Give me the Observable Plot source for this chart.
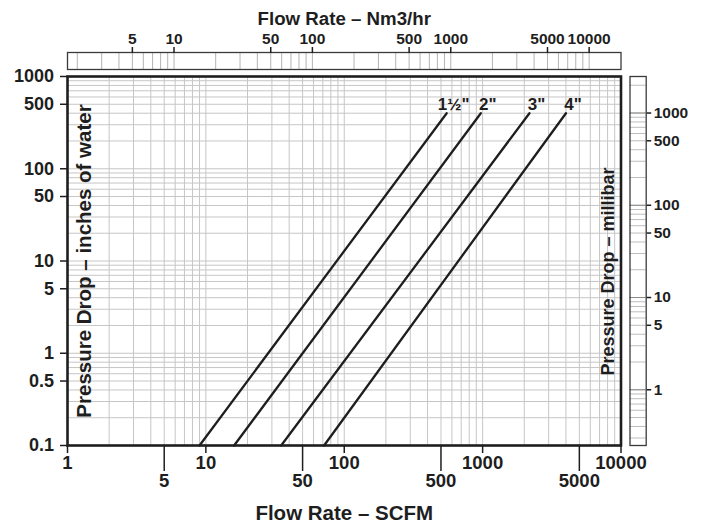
<!DOCTYPE html>
<html>
<head>
<meta charset="utf-8">
<script src="https://cdn.jsdelivr.net/npm/d3@7"></script>
<script src="https://cdn.jsdelivr.net/npm/@observablehq/plot@0.6"></script>
<style>
  html, body { margin: 0; padding: 0; background: #fff; }
  #chart { position: relative; width: 704px; height: 524px; overflow: hidden; }
  #chart svg { position: absolute; top: 0; max-width: none; }
</style>
</head>
<body>
<div id="chart"></div>
<script>
// ---------- data ----------
const sizes = ["1½\"", "2\"", "3\"", "4\""];
const dpLow = 0.1;                          // inches of water (bottom end of each line)
const dpHigh = 400;                         // inches of water (top end of each line)
const flowAtLow = [9, 16, 35, 71.5];        // SCFM at dpLow
const flowAtHigh = [550, 970, 2180, 4000];  // SCFM at dpHigh

const scfmTicksRow1 = [1, 10, 100, 1000, 10000];
const scfmTicksRow2 = [5, 50, 500, 5000];
const inchTicks = [0.1, 0.5, 1, 5, 10, 50, 100, 500, 1000];
const nm3Ticks = [5, 10, 50, 100, 500, 1000, 5000, 10000];
const mbarTicks = [1, 5, 10, 50, 100, 500, 1000];

const NM3H_PER_SCFM = 1.699;   // 1 ft3/min = 1.699 m3/h
const MBAR_PER_INH2O = 2.4884; // 1 inch of water = 2.4884 mbar

const titleBottom = "Flow Rate – SCFM";
const titleTop = "Flow Rate – Nm3/hr";
const titleLeft = "Pressure Drop – inches of water";
const titleRight = "Pressure Drop – millibar";

// ---------- derived tables ----------
function logGrid(lo, hi) {
  const out = [];
  for (let e = -2; e <= 5; e++) for (let m = 1; m <= 9; m++) {
    const v = +(m * Math.pow(10, e)).toPrecision(6);
    if (v >= lo * 0.9999 && v <= hi * 1.0001) out.push(v);
  }
  return out;
}
const lineData = sizes.flatMap((s, i) => [
  {size: s, q: flowAtLow[i], dp: dpLow},
  {size: s, q: flowAtHigh[i], dp: dpHigh}
]);
const labelData = sizes.map((s, i) => ({size: s, q: flowAtHigh[i], dp: dpHigh}));

const font = "'Liberation Sans', Arial, Helvetica, sans-serif";
const ink = "#1e1e1e";
const baseStyle = {fontFamily: font, fontWeight: "bold", color: ink, background: "transparent", overflow: "visible"};
const fmt = d => String(d);
const blank = () => "";

const ML = 67, MR = 83.5, MT = 76, MB = 79;

// ---------- main chart ----------
const main = Plot.plot({
  width: 704, height: 524,
  marginLeft: ML, marginRight: MR, marginTop: MT, marginBottom: MB,
  x: {type: "log", domain: [1, 10000]},
  y: {type: "log", domain: [0.1, 1000]},
  style: baseStyle,
  marks: [
    Plot.ruleX(logGrid(1, 10000), {stroke: "#c6c6c6", strokeWidth: 1}),
    Plot.ruleY(logGrid(0.1, 1000), {stroke: "#c6c6c6", strokeWidth: 1}),
    Plot.line(lineData, {x: "q", y: "dp", z: "size", stroke: ink, strokeWidth: 2.3}),
    Plot.text(labelData, {x: "q", y: "dp", text: "size", dx: 7, dy: -8.5, fontSize: 17, fill: ink, textAnchor: "middle", lineAnchor: "middle"}),
    Plot.text([titleLeft], {frameAnchor: "left", rotate: -90, dx: 17, textAnchor: "middle", lineAnchor: "middle", fontSize: 20.5, fill: ink}),
    Plot.text([titleRight], {frameAnchor: "right", rotate: -90, dx: -13, dy: 10.5, textAnchor: "middle", lineAnchor: "middle", fontSize: 18, fill: ink}),
    Plot.frame({stroke: ink, strokeWidth: 2.6}),
    // bottom axis: tick marks
    Plot.axisX(scfmTicksRow1, {anchor: "bottom", tickSize: 8, tickFormat: blank, label: null, strokeWidth: 1.5}),
    Plot.axisX(scfmTicksRow2, {anchor: "bottom", tickSize: 26, tickFormat: blank, label: null, strokeWidth: 1.5}),
    // bottom axis: labels
    Plot.text(scfmTicksRow1, {x: d => d, text: fmt, frameAnchor: "bottom", lineAnchor: "top", dy: 10, fontSize: 18.5, fill: ink}),
    Plot.text(scfmTicksRow2, {x: d => d, text: fmt, frameAnchor: "bottom", lineAnchor: "top", dy: 28.3, fontSize: 18.5, fill: ink}),
    // left axis
    Plot.axisY(inchTicks, {anchor: "left", tickSize: 7, tickFormat: blank, label: null, strokeWidth: 1.5}),
    Plot.text(inchTicks, {y: d => d, text: fmt, frameAnchor: "left", textAnchor: "end", lineAnchor: "middle", dx: -13.5, fontSize: 18, fill: ink}),
    Plot.text([titleBottom], {frameAnchor: "bottom", dy: 68, textAnchor: "middle", lineAnchor: "middle", fontSize: 20.5, fill: ink})
  ]
});

// ---------- top strip (Nm3/hr) ----------
const topStrip = Plot.plot({
  width: 704, height: 76,
  marginLeft: ML, marginRight: MR, marginTop: 52, marginBottom: 7,
  x: {type: "log", domain: [1 * NM3H_PER_SCFM, 10000 * NM3H_PER_SCFM]},
  style: baseStyle,
  marks: [
    Plot.ruleX(logGrid(NM3H_PER_SCFM, 10000 * NM3H_PER_SCFM), {stroke: "#b4b4b4", strokeWidth: 1}),
    Plot.frame({stroke: "#3a3a3a", strokeWidth: 1.3}),
    Plot.axisX(nm3Ticks, {anchor: "top", tickSize: 6, tickFormat: blank, label: null, strokeWidth: 1.5}),
    Plot.text(nm3Ticks, {x: d => d, text: fmt, frameAnchor: "top", lineAnchor: "bottom", dy: -9, fontSize: 15.5, fill: ink}),
    Plot.text([titleTop], {frameAnchor: "top", dy: -33.7, textAnchor: "middle", lineAnchor: "middle", fontSize: 18.7, fill: ink})
  ]
});

// ---------- right strip (millibar) ----------
const rightStrip = Plot.plot({
  width: 80, height: 524,
  marginLeft: 5.5, marginRight: 58.3, marginTop: MT, marginBottom: MB,
  y: {type: "log", domain: [0.1 * MBAR_PER_INH2O, 1000 * MBAR_PER_INH2O]},
  style: baseStyle,
  marks: [
    Plot.ruleY(logGrid(0.1 * MBAR_PER_INH2O, 1000 * MBAR_PER_INH2O), {stroke: "#bdbdbd", strokeWidth: 1}),
    Plot.ruleY(mbarTicks.filter(v => String(v)[0] === "1"), {stroke: "#8a8a8a", strokeWidth: 1}),
    Plot.frame({stroke: "#3a3a3a", strokeWidth: 1.3}),
    Plot.axisY(mbarTicks, {anchor: "right", tickSize: 4.5, tickFormat: blank, label: null, strokeWidth: 1.5}),
    Plot.text(mbarTicks, {y: d => d, text: fmt, frameAnchor: "right", textAnchor: "start", lineAnchor: "middle", dx: 7.5, fontSize: 15.5, fill: ink})
  ]
});

const chart = document.getElementById("chart");
main.style.left = "0px";
topStrip.style.left = "0px";
rightStrip.style.left = "624px";
chart.appendChild(main);
chart.appendChild(topStrip);
chart.appendChild(rightStrip);
</script>
</body>
</html>
